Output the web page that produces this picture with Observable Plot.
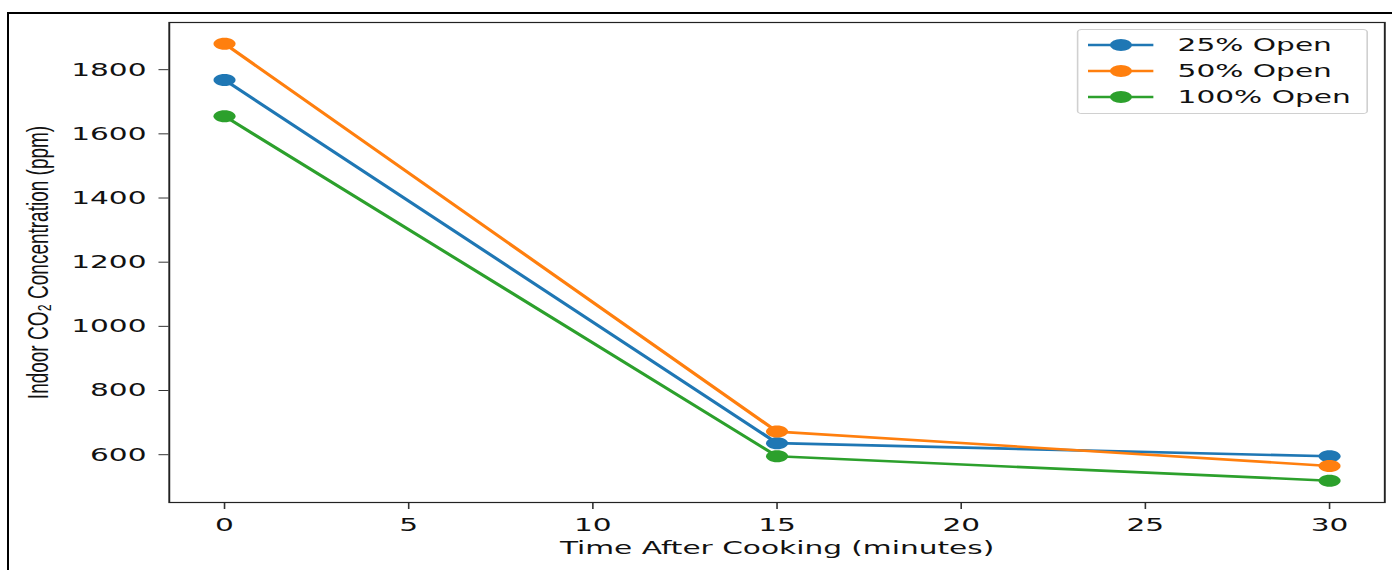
<!DOCTYPE html>
<html>
<head>
<meta charset="utf-8">
<script src="https://cdn.jsdelivr.net/npm/d3@7"></script>
<script src="https://cdn.jsdelivr.net/npm/@observablehq/plot@0.6"></script>
<style>
  html, body { margin: 0; padding: 0; background: #fff; }
  #wrap { position: relative; width: 1392px; height: 570px; overflow: hidden; background: #fff; }
  #border { position: absolute; left: 7px; top: 12px; width: 1390px; height: 600px;
            border-top: 2px solid #000; border-left: 2px solid #000; box-sizing: border-box; }
  #stretch { position: absolute; left: 0; top: 0; width: 870px; height: 570px;
             transform: scaleX(1.6); transform-origin: 0 0; }
  #legend { position: absolute; left: 672.5px; top: 29px; width: 182px; height: 85px;
            box-sizing: border-box; border: 1px solid #d0d0d0; border-radius: 3px;
            background: rgba(255,255,255,0.85);
            font-family: "DejaVu Sans", sans-serif; font-size: 18.5px; color: #111; }
  .row { position: absolute; left: 0; height: 26px; width: 100%; }
  .row svg { position: absolute; left: 6px; top: 6px; }
  .row span { position: absolute; left: 62.5px; top: 0; line-height: 26px; white-space: nowrap; }
</style>
</head>
<body>
<div id="wrap">
  <div id="border"></div>
  <div id="stretch"></div>
</div>
<script>
// ---- data ----
const times = [0, 15, 30];
const seriesNames = ["25% Open", "50% Open", "100% Open"];
const open25 = [1768, 636, 595];
const open50 = [1881, 672, 565];
const open100 = [1655, 595, 519];
const seriesColors = ["#1f77b4", "#ff7f0e", "#2ca02c"];
const xTicks = [0, 5, 10, 15, 20, 25, 30];
const yTicks = [600, 800, 1000, 1200, 1400, 1600, 1800];
const xLabel = "Time After Cooking (minutes)";
const yLabel = "Indoor CO₂ Concentration (ppm)";

const seriesValues = [open25, open50, open100];
const rows = [];
seriesNames.forEach((s, i) => times.forEach((t, j) => rows.push({series: s, time: t, value: seriesValues[i][j]})));

// ellipse symbol (horizontal stretch of the original figure)
const ellipse = {
  draw(context, size) {
    const r = Math.sqrt(size / Math.PI);
    const rx = r * 1.15, ry = r, k = 0.5523;
    context.moveTo(rx, 0);
    context.bezierCurveTo(rx, ry * k, rx * k, ry, 0, ry);
    context.bezierCurveTo(-rx * k, ry, -rx, ry * k, -rx, 0);
    context.bezierCurveTo(-rx, -ry * k, -rx * k, -ry, 0, -ry);
    context.bezierCurveTo(rx * k, -ry, rx, -ry * k, rx, 0);
    context.closePath();
  }
};

const marks = [];
seriesNames.forEach((s, i) => {
  const d = rows.filter(r => r.series === s);
  marks.push(Plot.line(d, {x: "time", y: "value", stroke: seriesColors[i], strokeWidth: 2.6}));
  marks.push(Plot.dot(d, {x: "time", y: "value", fill: seriesColors[i], r: 6, symbol: ellipse}));
});

const fmt = d => String(d);

const chart = Plot.plot({
  width: 870,
  height: 570,
  marginLeft: 105.3,
  marginRight: 5,
  marginTop: 22,
  marginBottom: 68,
  style: {fontFamily: "DejaVu Sans, sans-serif", fontSize: "18.5px", color: "#111", background: "transparent"},
  x: {domain: [-1.5, 31.5]},
  y: {domain: [451, 1947]},
  marks: [
    Plot.axisX({ticks: xTicks, tickFormat: fmt, tickSize: 7, tickPadding: 8, stroke: "#333", label: xLabel, labelArrow: "none", labelAnchor: "center", labelOffset: 51, fontSize: 18.5}),
    Plot.axisY({ticks: yTicks, tickFormat: fmt, tickSize: 6.25, tickPadding: 8, stroke: "#333", label: null, fontSize: 18.5}),
    Plot.axisY({ticks: [], label: yLabel, labelArrow: "none", labelAnchor: "center", labelOffset: 89, fontFamily: "Liberation Sans, Arial, sans-serif", fontSize: 19}),
    ...marks,
    Plot.frame({stroke: "#222", strokeWidth: 1.2})
  ]
});
const stretch = document.getElementById("stretch");
stretch.appendChild(chart);

// legend
const legend = document.createElement("div");
legend.id = "legend";
seriesNames.forEach((s, i) => {
  const row = document.createElement("div");
  row.className = "row";
  row.style.top = (2 + i * 26) + "px";
  row.innerHTML = `<svg width="41" height="14"><line x1="0" x2="41" y1="7" y2="7" stroke="${seriesColors[i]}" stroke-width="2.6"/><ellipse cx="20.6" cy="7" rx="6.9" ry="6" fill="${seriesColors[i]}"/></svg><span>${s}</span>`;
  legend.appendChild(row);
});
stretch.appendChild(legend);
</script>
</body>
</html>
